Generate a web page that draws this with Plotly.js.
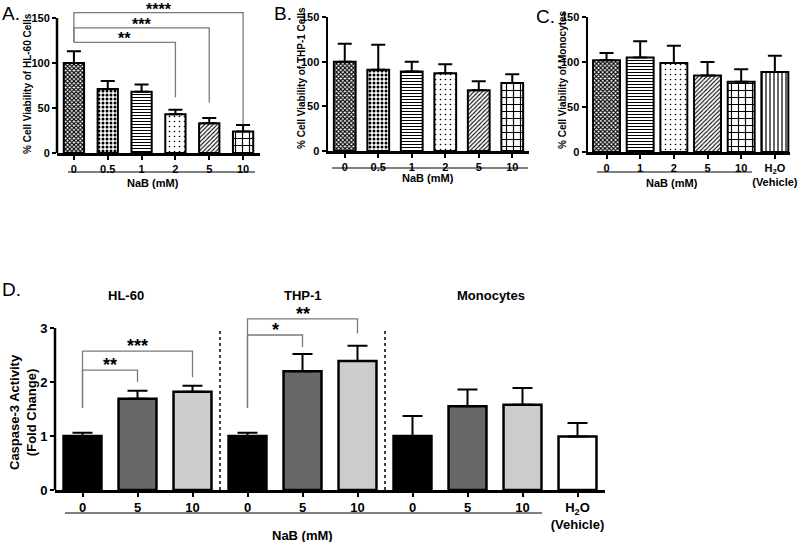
<!DOCTYPE html>
<html>
<head>
<meta charset="utf-8">
<script src="https://cdn.plot.ly/plotly-3.0.1.min.js"></script>
<style>
  html, body { margin: 0; padding: 0; background: #fff; }
  #chart { width: 800px; height: 542px; }
</style>
</head>
<body>
<div id="chart"></div>
<script>
// A. HL-60 viability
var dosesA = ['0', '0.5', '1', '2', '5', '10'];
var meanA = [100, 71, 68, 43, 33, 24];
var errA = [13, 9, 8, 5, 6, 7];
var sigPairsA = [[0, 3], [0, 4], [0, 5]];
var sigLevelA = [123, 139, 156];
var sigEndA = [62, 56, 32];
var sigTextA = ['**', '***', '****'];

// B. THP-1 viability
var dosesB = ['0', '0.5', '1', '2', '5', '10'];
var meanB = [100, 91, 89, 87, 68, 76];
var errB = [20, 28, 11, 10, 10, 10];

// C. monocyte viability
var dosesC = ['0', '1', '2', '5', '10', 'H2O'];
var meanC = [102, 105, 99, 85, 78, 89];
var errC = [8, 18, 19, 15, 14, 18];

// D. caspase-3 activity
var groupD = ['HL-60', 'HL-60', 'HL-60', 'THP-1', 'THP-1', 'THP-1',
              'Monocytes', 'Monocytes', 'Monocytes', 'Monocytes'];
var dosesD = ['0', '5', '10', '0', '5', '10', '0', '5', '10', 'H2O'];
var meanD = [1.0, 1.69, 1.82, 1.0, 2.2, 2.39, 1.0, 1.55, 1.58, 0.99];
var errD = [0.06, 0.15, 0.11, 0.06, 0.32, 0.28, 0.37, 0.31, 0.31, 0.25];
var sigPairsD = [[0, 1], [0, 2], [3, 4], [3, 5]];
var sigLevelD = [2.22, 2.57, 2.87, 3.17];
var sigEndD = [2.0, 2.09, 2.65, 2.9];
var sigTextD = ['**', '***', '*', '**'];
var sigBaseD = 1.52;

var FONT = 'Liberation Sans, Arial, sans-serif';
var W = 800, H = 542;
function px(x) { return x / W; }
function py(y) { return 1 - y / H; }

var patterns = {
  '0':   { shape: 'x', size: 3, solidity: 0.6 },
  '0.5': { shape: '.', size: 4, solidity: 0.45 },
  '1':   { shape: '-', size: 3, solidity: 0.35 },
  '2':   { shape: '.', size: 5, solidity: 0.08 },
  '5':   { shape: '/', size: 3, solidity: 0.35 },
  '10':  { shape: '+', size: 7, solidity: 0.3 },
  'H2O': { shape: '|', size: 4, solidity: 0.3 }
};
var greys = { '0': 'black', '5': '#686868', '10': '#cdcdcd', 'H2O': 'white' };
var titleShift = { 'HL-60': -12, 'THP-1': 0, 'Monocytes': -4 };

function tickName(d) {
  return d === 'H2O' ? 'H<sub>2</sub>O<br>(Vehicle)' : d;
}
function idx(arr) { return arr.map(function (d, i) { return i; }); }

function patternBars(doses, means, errs, n, width) {
  var pats = doses.map(function (d) { return patterns[d]; });
  return {
    type: 'bar', x: idx(doses), y: means, xaxis: 'x' + n, yaxis: 'y' + n,
    width: width, hoverinfo: 'skip',
    marker: {
      color: 'white',
      line: { color: 'black', width: 2 },
      pattern: {
        shape: pats.map(function (p) { return p.shape; }),
        size: pats.map(function (p) { return p.size; }),
        solidity: pats.map(function (p) { return p.solidity; }),
        fgcolor: 'black', bgcolor: 'white', fillmode: 'replace'
      }
    },
    error_y: {
      type: 'data', symmetric: false, array: errs,
      arrayminus: errs.map(function () { return 0; }),
      color: 'black', thickness: 2, width: 7
    }
  };
}

var traces = [
  patternBars(dosesA, meanA, errA, '', 0.6),
  patternBars(dosesB, meanB, errB, '2', 0.65),
  patternBars(dosesC, meanC, errC, '3', 0.8),
  {
    type: 'bar', x: idx(dosesD), y: meanD, xaxis: 'x4', yaxis: 'y4',
    width: 0.69, hoverinfo: 'skip',
    marker: {
      color: dosesD.map(function (d) { return greys[d]; }),
      line: { color: 'black', width: 2.5 }
    },
    error_y: {
      type: 'data', symmetric: false, array: errD,
      arrayminus: errD.map(function () { return 0; }),
      color: 'black', thickness: 2, width: 10
    }
  }
];

function xAxis(doses, domain, range, size, anchor) {
  return {
    domain: domain, range: range, anchor: anchor,
    tickvals: idx(doses), ticktext: doses.map(tickName),
    ticks: 'outside', ticklen: 4, tickwidth: 2, tickcolor: 'black',
    showline: true, linewidth: 2.5, linecolor: 'black',
    showgrid: false, zeroline: false, fixedrange: true,
    tickfont: { family: FONT, size: size, color: 'black', weight: 'bold' }
  };
}
function yAxis(domain, range, tickvals, size, anchor, line) {
  return {
    domain: domain, range: range, anchor: anchor, tickvals: tickvals,
    ticks: 'outside', ticklen: 4, tickwidth: 2, tickcolor: 'black',
    showline: line, linewidth: 2.5, linecolor: 'black',
    showgrid: false, zeroline: false, fixedrange: true,
    tickfont: { family: FONT, size: size, color: 'black', weight: 'bold' }
  };
}

var shapes = [];
var annotations = [];

function text(t, x, y, size, opts) {
  var a = {
    text: t, x: x, y: y, xref: 'paper', yref: 'paper', showarrow: false,
    xanchor: 'center', yanchor: 'middle',
    font: { family: FONT, size: size, color: 'black', weight: 'bold' }
  };
  for (var k in opts) a[k] = opts[k];
  annotations.push(a);
}

// y axis lines drawn up to the top tick (ranges are taller to fit brackets)
shapes.push({ type: 'line', xref: 'x domain', yref: 'y', x0: 0, x1: 0, y0: 0, y1: 150,
  line: { color: 'black', width: 2.5 } });
shapes.push({ type: 'line', xref: 'x4 domain', yref: 'y4', x0: 0, x1: 0, y0: 0, y1: 3,
  line: { color: 'black', width: 2.5 } });

function brackets(pairs, levels, ends, labels, base, n, size) {
  for (var i = 0; i < pairs.length; i++) {
    var a = pairs[i][0], b = pairs[i][1];
    shapes.push({
      type: 'path', xref: 'x' + n, yref: 'y' + n,
      path: 'M' + a + ',' + base + ' L' + a + ',' + levels[i] + ' L' + b + ',' + levels[i] + ' L' + b + ',' + ends[i],
      line: { color: '#7a7a7a', width: 1.3 }
    });
    annotations.push({
      text: labels[i], x: (a + b) / 2, y: levels[i], xref: 'x' + n, yref: 'y' + n,
      xanchor: 'center', yanchor: 'bottom', yshift: -7, showarrow: false,
      font: { family: FONT, size: size, color: 'black', weight: 'bold' }
    });
  }
}
brackets(sigPairsA, sigLevelA, sigEndA, sigTextA, Math.min.apply(null, sigLevelA), '', 16);
brackets(sigPairsD, sigLevelD, sigEndD, sigTextD, sigBaseD, '4', 18);

// group separators and titles in D
var groupNames = [];
groupD.forEach(function (g, i) {
  if (i > 0 && g !== groupD[i - 1]) {
    shapes.push({ type: 'line', xref: 'x4', yref: 'y4', x0: i - 0.5, x1: i - 0.5, y0: 0, y1: 3,
      line: { color: 'black', width: 1.5, dash: 'dot' } });
  }
  if (groupNames.indexOf(g) < 0) groupNames.push(g);
});
groupNames.forEach(function (g) {
  var pos = idx(groupD).filter(function (i) { return groupD[i] === g; });
  var mid = (pos[0] + pos[pos.length - 1]) / 2;
  annotations.push({
    text: g, x: mid, xref: 'x4', y: py(295), yref: 'paper', showarrow: false,
    xanchor: 'center', yanchor: 'middle', xshift: titleShift[g],
    font: { family: FONT, size: 13, color: 'black', weight: 'bold' }
  });
});

// underlines under the NaB doses
function underline(x0, x1, y) {
  shapes.push({ type: 'line', xref: 'paper', yref: 'paper', x0: px(x0), x1: px(x1), y0: py(y), y1: py(y),
    line: { color: 'black', width: 1 } });
}
underline(68, 255, 172);
underline(332, 528, 168);
underline(597, 752, 172);
underline(65, 542, 513);

// panel letters
var letter = { family: FONT, size: 19, color: 'black', weight: 'normal' };
[['A.', 0, 14], ['B.', 272, 14], ['C.', 534, 16], ['D.', 0, 289]].forEach(function (l) {
  annotations.push({ text: l[0], x: px(l[1]), y: py(l[2]), xref: 'paper', yref: 'paper',
    xanchor: 'left', yanchor: 'middle', showarrow: false, font: letter });
});

// axis titles
text('% Cell Viability of HL-60 Cells', px(27), py(84), 10, { textangle: -90 });
text('% Cell Viability of THP-1 Cells', px(301), py(78), 10, { textangle: -90 });
text('% Cell Viability of Monocytes', px(562), py(80), 10, { textangle: -90 });
text('Caspase-3 Activity<br>(Fold Change)', px(23), py(412), 13, { textangle: -90 });
text('NaB (mM)', px(153), py(183), 11, {});
text('NaB (mM)', px(428), py(178), 11, {});
text('NaB (mM)', px(672), py(183), 11, {});
text('NaB (mM)', px(302), py(535), 13, {});

var layout = {
  width: W, height: H,
  margin: { l: 0, r: 0, t: 0, b: 0 },
  paper_bgcolor: 'white', plot_bgcolor: 'rgba(0,0,0,0)',
  showlegend: false, bargap: 0,
  xaxis: xAxis(dosesA, [px(57), px(260)], [-0.5, 5.5], 11, 'y'),
  yaxis: yAxis([py(153), py(9)], [0, 160], [0, 50, 100, 150], 11, 'x', false),
  xaxis2: xAxis(dosesB, [px(328), px(529)], [-0.5, 5.5], 11, 'y2'),
  yaxis2: yAxis([py(151), py(17)], [0, 150], [0, 50, 100, 150], 11, 'x2', true),
  xaxis3: xAxis(dosesC, [px(588), px(790)], [-0.55, 5.45], 11, 'y3'),
  yaxis3: yAxis([py(152), py(17)], [0, 150], [0, 50, 100, 150], 11, 'x3', true),
  xaxis4: xAxis(dosesD, [px(55), px(605)], [-0.5, 9.5], 13, 'y4'),
  yaxis4: yAxis([py(490), py(311.8)], [0, 3.3], [0, 1, 2, 3], 13, 'x4', false),
  shapes: shapes,
  annotations: annotations
};

Plotly.newPlot('chart', traces, layout, { displayModeBar: false, staticPlot: true });
</script>
</body>
</html>
